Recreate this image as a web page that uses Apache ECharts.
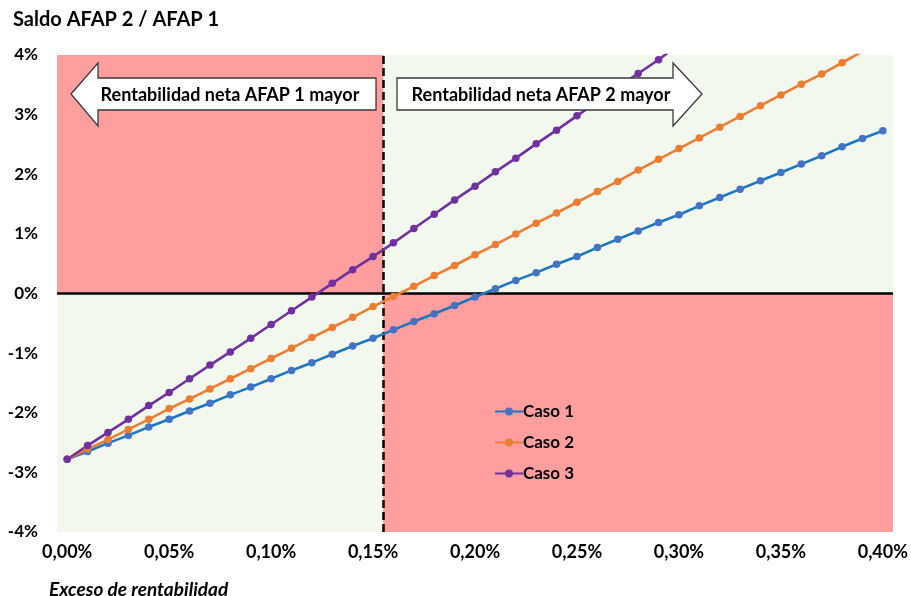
<!DOCTYPE html>
<html><head><meta charset="utf-8">
<script src="https://cdn.jsdelivr.net/npm/echarts@6/dist/echarts.min.js"></script>
<style>html,body{margin:0;padding:0;background:#fff}#c{width:911px;height:596px}</style>
</head><body><div id="c"></div>
<script>
// Excess return (%), one point every 0.01%
const xValues = [0.00,0.01,0.02,0.03,0.04,0.05,0.06,0.07,0.08,0.09,0.10,0.11,0.12,0.13,0.14,0.15,0.16,0.17,0.18,0.19,0.20,
  0.21,0.22,0.23,0.24,0.25,0.26,0.27,0.28,0.29,0.30,0.31,0.32,0.33,0.34,0.35,0.36,0.37,0.38,0.39,0.40];
const caso1 = [-2.78,-2.65,-2.51,-2.38,-2.24,-2.11,-1.97,-1.84,-1.70,-1.57,-1.43,-1.29,-1.16,-1.02,-0.88,-0.75,-0.61,-0.47,-0.34,-0.20,-0.06,
  0.08,0.22,0.35,0.49,0.62,0.77,0.91,1.05,1.19,1.32,1.47,1.61,1.75,1.89,2.03,2.17,2.31,2.46,2.60,2.73];
const caso2 = [-2.78,-2.61,-2.45,-2.28,-2.11,-1.93,-1.77,-1.60,-1.43,-1.26,-1.09,-0.92,-0.74,-0.57,-0.40,-0.22,-0.05,0.12,0.30,0.47,0.65,
  0.82,1.00,1.18,1.35,1.53,1.71,1.88,2.07,2.25,2.43,2.61,2.79,2.97,3.15,3.33,3.51,3.68,3.87,4.06,4.25];
const caso3 = [-2.78,-2.55,-2.33,-2.11,-1.88,-1.66,-1.43,-1.20,-0.98,-0.75,-0.52,-0.29,-0.06,0.17,0.40,0.62,0.85,1.09,1.33,1.57,1.80,
  2.04,2.27,2.51,2.74,2.98,3.22,3.46,3.69,3.92,4.18,4.42,4.66,4.91,5.15,5.39,5.64,5.88,6.13,6.37,6.62];
const seriesNames = ['Caso 1','Caso 2','Caso 3'];
const xTickValues = [0.00,0.05,0.10,0.15,0.20,0.25,0.30,0.35,0.40];
const breakEven = 0.155;
const titleText = 'Saldo AFAP 2 / AFAP 1';
const xAxisTitle = 'Exceso de rentabilidad';
const leftArrowText = 'Rentabilidad neta AFAP 1 mayor';
const rightArrowText = 'Rentabilidad neta AFAP 2 mayor';

const FONT = 'Lato';
const zip = arr => xValues.map((x, i) => [x, arr[i]]);
const chart = echarts.init(document.getElementById('c'), null, {renderer: 'canvas'});

const lineSeries = (name, data, lineColor, dotColor) => ({
  name, type: 'line', data: zip(data), z: 5, clip: true,
  symbol: 'circle', symbolSize: 7.5, showSymbol: true,
  lineStyle: {color: lineColor, width: 2.6},
  itemStyle: {color: dotColor},
  emphasis: {disabled: true}
});

chart.setOption({
  animation: false,
  backgroundColor: '#ffffff',
  textStyle: {fontFamily: FONT},
  title: [
    {text: titleText, left: 8, top: 5, textStyle: {fontFamily: FONT, fontSize: 20, fontWeight: 'bold', color: '#000'}},
    {text: xAxisTitle, left: 44, top: 575, textStyle: {fontFamily: FONT, fontSize: 19, fontWeight: 'bold', fontStyle: 'italic', color: '#000'}}
  ],
  grid: {left: 57, right: 17, top: 55, bottom: 64, show: true, backgroundColor: '#F2F8EE', borderWidth: 0},
  xAxis: {
    type: 'value', min: -0.005, max: 0.405,
    axisLine: {show: false}, axisTick: {show: false}, splitLine: {show: false},
    axisLabel: {
      customValues: xTickValues, margin: 11,
      formatter: v => v.toFixed(2).replace('.', ',') + '%',
      fontFamily: FONT, fontSize: 18, fontWeight: 'bold', color: '#000'
    }
  },
  yAxis: {
    type: 'value', min: -4, max: 4, interval: 1,
    axisLine: {show: false}, axisTick: {show: false}, splitLine: {show: false},
    axisLabel: {formatter: '{value}%', margin: 19, fontFamily: FONT, fontSize: 17, fontWeight: 'bold', color: '#000'}
  },
  legend: {
    data: seriesNames, orient: 'vertical', left: 489, top: 398,
    itemWidth: 28, itemHeight: 10, itemGap: 14,
    textStyle: {fontFamily: FONT, fontSize: 17, fontWeight: 'bold', color: '#000', padding: [0, 0, 0, -5]}
  },
  series: [
    {
      type: 'line', data: [], z: 1, silent: true,
      markArea: {
        silent: true, precision: 4,
        itemStyle: {color: '#FF9E9E'},
        data: [
          [{xAxis: -0.005, yAxis: 0}, {xAxis: breakEven, yAxis: 4}],
          [{xAxis: breakEven, yAxis: -4}, {xAxis: 0.405, yAxis: 0}]
        ]
      }
    },
    {
      type: 'line', data: [], z: 2, silent: true,
      markLine: {
        silent: true, symbol: 'none', label: {show: false}, precision: 4,
        data: [
          {yAxis: 0, lineStyle: {color: '#000', width: 2.5, type: 'solid'}},
          {xAxis: breakEven, lineStyle: {color: '#000', width: 2.5, type: [8, 4]}}
        ]
      }
    },
    lineSeries(seriesNames[0], caso1, '#1A78C2', '#4472C4'),
    lineSeries(seriesNames[1], caso2, '#ED7D31', '#ED7D31'),
    lineSeries(seriesNames[2], caso3, '#7030A0', '#7030A0')
  ],
  graphic: [
    {
      type: 'polygon', z: 100,
      shape: {points: [[71, 94], [98, 63], [98, 78], [376, 78], [376, 110], [98, 110], [98, 126]]},
      style: {fill: '#fff', stroke: '#3a3a3a', lineWidth: 1.3}
    },
    {
      type: 'text', z: 101, x: 230, y: 95,
      style: {text: leftArrowText, font: 'bold 18px ' + FONT, fill: '#000', align: 'center', verticalAlign: 'middle'}
    },
    {
      type: 'polygon', z: 100,
      shape: {points: [[397, 78], [673, 78], [673, 63], [702, 94], [673, 126], [673, 110], [397, 110]]},
      style: {fill: '#fff', stroke: '#3a3a3a', lineWidth: 1.3}
    },
    {
      type: 'text', z: 101, x: 541, y: 95,
      style: {text: rightArrowText, font: 'bold 18px ' + FONT, fill: '#000', align: 'center', verticalAlign: 'middle'}
    }
  ]
});
</script></body></html>
